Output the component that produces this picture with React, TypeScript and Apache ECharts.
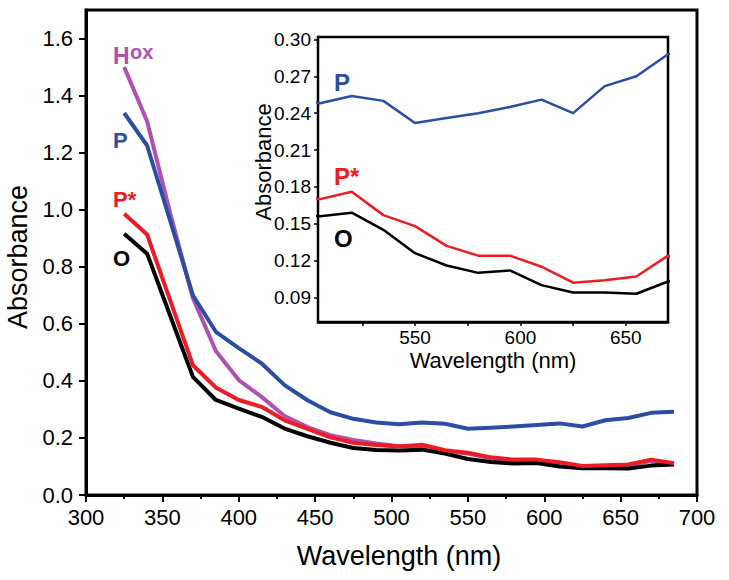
import React, { useEffect, useRef } from "react";
import * as echarts from "echarts";

const wavelengths = [325, 340, 355, 370, 385, 400, 415, 430, 445, 460, 475, 490, 505, 520, 535, 550, 565, 580, 595, 610, 625, 640, 655, 670, 685];
const hoxAbs = [1.5, 1.31, 0.99, 0.69, 0.505, 0.403, 0.344, 0.277, 0.238, 0.21, 0.193, 0.181, 0.171, 0.171, 0.154, 0.145, 0.129, 0.121, 0.121, 0.111, 0.098, 0.1, 0.103, 0.119, 0.108];
const pAbs = [1.339, 1.225, 0.963, 0.7, 0.572, 0.515, 0.461, 0.385, 0.332, 0.29, 0.267, 0.254, 0.248, 0.254, 0.25, 0.232, 0.236, 0.24, 0.245, 0.251, 0.24, 0.262, 0.27, 0.288, 0.292];
const pStarAbs = [0.986, 0.913, 0.684, 0.455, 0.377, 0.333, 0.309, 0.262, 0.232, 0.202, 0.183, 0.175, 0.17, 0.176, 0.157, 0.148, 0.132, 0.124, 0.124, 0.115, 0.102, 0.104, 0.107, 0.124, 0.111];
const oAbs = [0.916, 0.846, 0.63, 0.414, 0.333, 0.303, 0.274, 0.233, 0.206, 0.183, 0.165, 0.158, 0.156, 0.159, 0.145, 0.126, 0.116, 0.11, 0.112, 0.1, 0.094, 0.094, 0.093, 0.103, 0.107];

const mainYTicks = [0, 0.2, 0.4, 0.6, 0.8, 1.0, 1.2, 1.4, 1.6];
const insetYTicks = [0.09, 0.12, 0.15, 0.18, 0.21, 0.24, 0.27, 0.3];
const insetXLabels = [550, 600, 650];
const insetXTicks = [525, 550, 575, 600, 625, 650];

const PURPLE = "#b050b0";
const BLUE = "#2b4ea2";
const RED = "#ec1c24";
const BLACK = "#000000";
const FONT = '"Liberation Sans", Arial, Helvetica, sans-serif';

const pairs = (vals: number[]) => wavelengths.map((w, i) => [w, vals[i]]);

function txt(text: string, x: number, y: number, size: number, color: string, bold: boolean, rotation = 0) {
  return {
    type: "text",
    x,
    y,
    rotation,
    z: 100,
    style: {
      text,
      x: 0,
      y: 0,
      fill: color,
      font: `${bold ? "bold " : ""}${size}px ${FONT}`,
      align: bold ? "left" : "center",
      textAlign: bold ? "left" : "center",
      verticalAlign: "middle",
      textVerticalAlign: "middle",
    },
  };
}

export default function App() {
  const ref = useRef<HTMLDivElement>(null);
  useEffect(() => {
    if (!ref.current) return;
    const chart = echarts.init(ref.current, undefined, { renderer: "svg" });
    const mainLine = (name: string, vals: number[], color: string) => ({
      name,
      type: "line",
      xAxisIndex: 0,
      yAxisIndex: 0,
      data: pairs(vals),
      showSymbol: false,
      symbol: "none",
      lineStyle: { color, width: 4, join: "round" },
      itemStyle: { color },
      z: 3,
    });
    const insetLine = (name: string, vals: number[], color: string) => ({
      name,
      type: "line",
      xAxisIndex: 1,
      yAxisIndex: 1,
      data: pairs(vals),
      showSymbol: false,
      symbol: "none",
      clip: true,
      lineStyle: { color, width: 2.5 },
      itemStyle: { color },
      z: 10,
    });
    chart.setOption({
      animation: false,
      backgroundColor: "#ffffff",
      textStyle: { fontFamily: FONT },
      grid: [
        { left: 86, right: 32, top: 10, bottom: 85, show: true, borderColor: "#000", borderWidth: 3, backgroundColor: "transparent", z: 0 },
        { left: 318, right: 61, top: 37, bottom: 258, show: true, borderColor: "#000", borderWidth: 2.5, backgroundColor: "#ffffff", z: 5 },
      ],
      xAxis: [
        {
          type: "value",
          gridIndex: 0,
          min: 300,
          max: 700,
          interval: 50,
          axisLine: { show: true, onZero: false, lineStyle: { color: "#000", width: 3 } },
          axisTick: { show: true, inside: false, length: 7, lineStyle: { color: "#000", width: 2 } },
          minorTick: { show: true, splitNumber: 2, length: 4, lineStyle: { color: "#000", width: 2 } },
          axisLabel: { color: "#000", fontSize: 22, fontFamily: FONT, margin: 11 },
          splitLine: { show: false },
          minorSplitLine: { show: false },
        },
        {
          type: "value",
          gridIndex: 1,
          min: 504,
          max: 670,
          axisLine: { show: true, onZero: false, lineStyle: { color: "#000", width: 2.5 } },
          axisTick: { show: true, inside: false, length: 4, customValues: insetXTicks, lineStyle: { color: "#000", width: 1.5 } },
          axisLabel: { color: "#000", fontSize: 19, fontFamily: FONT, margin: 6, customValues: insetXLabels },
          splitLine: { show: false },
        },
      ],
      yAxis: [
        {
          type: "value",
          gridIndex: 0,
          min: 0,
          max: 1.7,
          axisLine: { show: true, onZero: false, lineStyle: { color: "#000", width: 3 } },
          axisTick: { show: true, inside: false, length: 7, customValues: mainYTicks, lineStyle: { color: "#000", width: 2 } },
          axisLabel: { color: "#000", fontSize: 22, fontFamily: FONT, margin: 13, customValues: mainYTicks, formatter: (v: number) => v.toFixed(1) },
          splitLine: { show: false },
        },
        {
          type: "value",
          gridIndex: 1,
          min: 0.07,
          max: 0.302,
          axisLine: { show: true, onZero: false, lineStyle: { color: "#000", width: 2.5 } },
          axisTick: { show: true, inside: false, length: 4, customValues: insetYTicks, lineStyle: { color: "#000", width: 1.5 } },
          axisLabel: { color: "#000", fontSize: 19, fontFamily: FONT, margin: 7, customValues: insetYTicks, formatter: (v: number) => v.toFixed(2) },
          splitLine: { show: false },
        },
      ],
      series: [
        mainLine("Hox", hoxAbs, PURPLE),
        mainLine("O", oAbs, BLACK),
        mainLine("P*", pStarAbs, RED),
        mainLine("P", pAbs, BLUE),
        insetLine("P inset", pAbs, BLUE),
        insetLine("P* inset", pStarAbs, RED),
        insetLine("O inset", oAbs, BLACK),
      ],
      graphic: [
        txt("Wavelength (nm)", 399, 556, 27, "#000", false),
        txt("Absorbance", 18, 257, 27, "#000", false, Math.PI / 2),
        txt("Wavelength (nm)", 493, 360, 22, "#000", false),
        txt("Absorbance", 263, 162, 22, "#000", false, Math.PI / 2),
        txt("H", 113, 56, 23, PURPLE, true),
        txt("ox", 130, 52, 20, PURPLE, true),
        txt("P", 113, 140, 22, BLUE, true),
        txt("P*", 113, 199, 22, RED, true),
        txt("O", 113, 258, 22, BLACK, true),
        txt("P", 334, 82, 24, BLUE, true),
        txt("P*", 334, 176, 24, RED, true),
        txt("O", 334, 238, 24, BLACK, true),
      ],
    });
    return () => chart.dispose();
  }, []);
  return <div ref={ref} style={{ position: "fixed", left: 0, top: 0, width: 729, height: 580 }} />;
}
